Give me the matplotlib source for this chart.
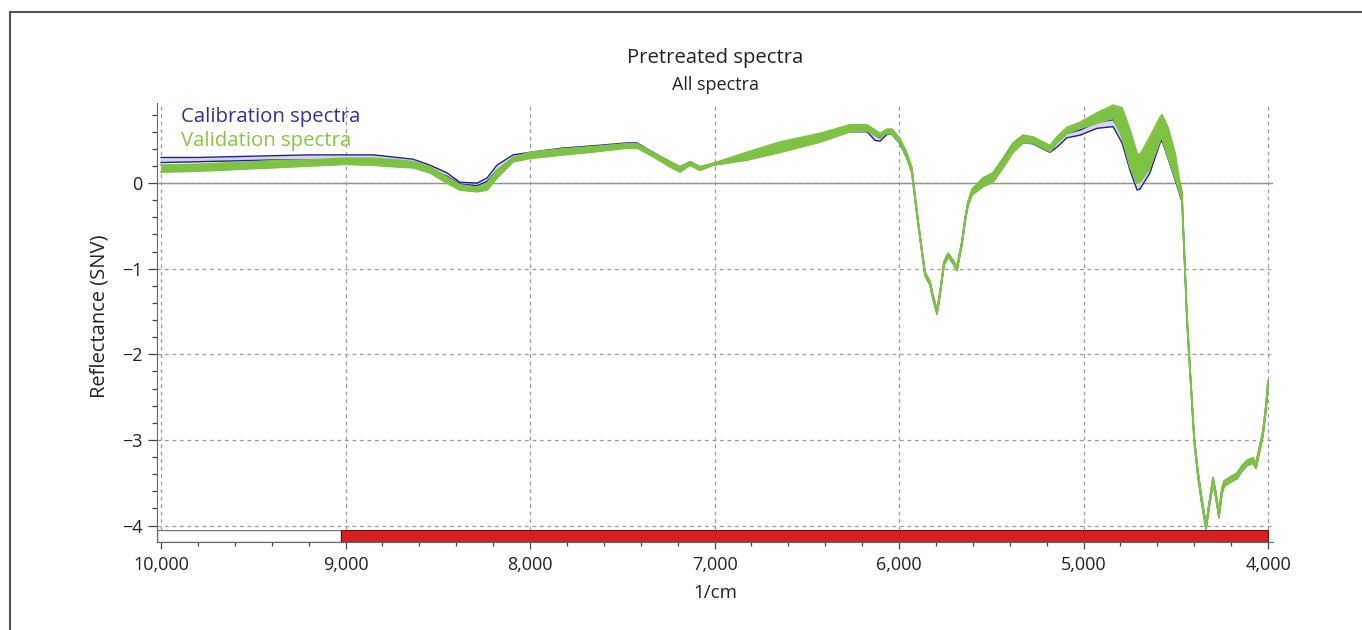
import matplotlib
matplotlib.use("Agg")
import matplotlib.pyplot as plt
from matplotlib.patches import Rectangle
from matplotlib.ticker import MultipleLocator, FuncFormatter
from matplotlib.lines import Line2D

plt.rcParams['font.family'] = ['Open Sans', 'DejaVu Sans']

# ---- data ----
wavenumber = [10000, 9800, 9600, 9400, 9200, 9000, 8850, 8720, 8634, 8542,
              8450, 8380, 8287, 8233, 8179, 8092, 8000, 7821, 7637, 7474,
              7420, 7333, 7241, 7187, 7133, 7079, 7008, 6824, 6645, 6428,
              6266, 6173, 6130, 6103, 6065, 6038, 5995, 5957, 5930, 5924,
              5903, 5886, 5859, 5832, 5816, 5794, 5778, 5756, 5734, 5707,
              5686, 5659, 5642, 5626, 5604, 5545, 5491, 5436, 5382, 5328,
              5274, 5220, 5182, 5144, 5090, 5019, 4927, 4840, 4791, 4748,
              4710, 4694, 4640, 4585, 4575, 4542, 4504, 4483, 4466, 4460,
              4450, 4440, 4428, 4412, 4400, 4380, 4360, 4336, 4318, 4298,
              4282, 4266, 4250, 4238, 4200, 4168, 4140, 4114, 4081, 4065,
              4045, 4027, 4010, 4000]

calibration_high = [0.30, 0.30, 0.31, 0.32, 0.33, 0.33, 0.33, 0.30, 0.28, 0.21,
                    0.12, 0.01, 0.00, 0.06, 0.21, 0.33, 0.36, 0.41, 0.44, 0.47,
                    0.47, 0.36, 0.25, 0.19, 0.25, 0.19, 0.23, 0.32, 0.44, 0.56,
                    0.65, 0.64, 0.56, 0.53, 0.60, 0.61, 0.50, 0.33, 0.16, 0.05,
                    -0.33, -0.61, -1.04, -1.15, -1.31, -1.48, -1.27, -0.92, -0.82, -0.90,
                    -0.98, -0.68, -0.41, -0.22, -0.08, 0.04, 0.10, 0.27, 0.45, 0.54,
                    0.52, 0.46, 0.41, 0.48, 0.58, 0.62, 0.71, 0.74, 0.58, 0.30,
                    0.00, 0.02, 0.19, 0.58, 0.60, 0.41, 0.15, 0.00, -0.15, -0.48,
                    -0.98, -1.52, -1.97, -2.54, -2.97, -3.36, -3.67, -3.99, -3.72, -3.44,
                    -3.62, -3.85, -3.57, -3.48, -3.43, -3.39, -3.30, -3.24, -3.21, -3.27,
                    -3.07, -2.89, -2.57, -2.31]

calibration_low = [0.24, 0.25, 0.26, 0.27, 0.27, 0.27, 0.28, 0.25, 0.23, 0.17,
                   0.08, -0.01, -0.03, 0.02, 0.15, 0.28, 0.31, 0.36, 0.40, 0.43,
                   0.43, 0.32, 0.21, 0.15, 0.22, 0.16, 0.21, 0.28, 0.37, 0.50,
                   0.60, 0.60, 0.50, 0.49, 0.57, 0.57, 0.46, 0.29, 0.12, 0.01,
                   -0.37, -0.65, -1.08, -1.19, -1.35, -1.53, -1.31, -0.96, -0.86, -0.94,
                   -1.02, -0.72, -0.45, -0.26, -0.13, -0.03, 0.02, 0.19, 0.37, 0.47,
                   0.46, 0.40, 0.36, 0.42, 0.53, 0.56, 0.64, 0.66, 0.47, 0.15,
                   -0.08, -0.07, 0.12, 0.47, 0.50, 0.29, 0.04, -0.10, -0.22, -0.53,
                   -1.03, -1.57, -2.02, -2.59, -3.02, -3.42, -3.73, -4.04, -3.78, -3.50,
                   -3.68, -3.91, -3.63, -3.54, -3.49, -3.45, -3.36, -3.30, -3.27, -3.33,
                   -3.13, -2.95, -2.63, -2.37]

validation_high = [0.21, 0.22, 0.24, 0.26, 0.27, 0.29, 0.29, 0.27, 0.25, 0.19,
                   0.07, -0.02, -0.05, 0.00, 0.15, 0.30, 0.36, 0.40, 0.43, 0.46,
                   0.46, 0.36, 0.25, 0.19, 0.25, 0.19, 0.23, 0.36, 0.48, 0.58,
                   0.68, 0.68, 0.62, 0.58, 0.63, 0.63, 0.52, 0.35, 0.18, 0.05,
                   -0.33, -0.61, -1.04, -1.15, -1.31, -1.48, -1.27, -0.92, -0.82, -0.90,
                   -0.98, -0.68, -0.41, -0.22, -0.07, 0.06, 0.12, 0.29, 0.47, 0.56,
                   0.54, 0.48, 0.44, 0.54, 0.65, 0.71, 0.82, 0.91, 0.88, 0.62,
                   0.35, 0.33, 0.54, 0.77, 0.80, 0.65, 0.35, 0.07, -0.10, -0.48,
                   -0.98, -1.52, -1.97, -2.54, -2.97, -3.36, -3.67, -3.99, -3.72, -3.44,
                   -3.62, -3.85, -3.57, -3.48, -3.43, -3.39, -3.30, -3.24, -3.21, -3.27,
                   -3.07, -2.89, -2.57, -2.31]

validation_low = [0.13, 0.14, 0.16, 0.18, 0.20, 0.22, 0.21, 0.19, 0.18, 0.12,
                  0.00, -0.08, -0.10, -0.08, 0.06, 0.25, 0.29, 0.33, 0.37, 0.41,
                  0.41, 0.31, 0.19, 0.13, 0.21, 0.15, 0.21, 0.27, 0.36, 0.48,
                  0.60, 0.61, 0.56, 0.54, 0.58, 0.57, 0.47, 0.29, 0.12, 0.01,
                  -0.37, -0.65, -1.08, -1.19, -1.35, -1.53, -1.31, -0.96, -0.86, -0.94,
                  -1.02, -0.72, -0.45, -0.26, -0.14, -0.04, 0.01, 0.18, 0.36, 0.47,
                  0.47, 0.41, 0.37, 0.47, 0.58, 0.64, 0.70, 0.76, 0.54, 0.19,
                  0.00, 0.01, 0.18, 0.50, 0.53, 0.30, 0.06, -0.08, -0.20, -0.53,
                  -1.03, -1.57, -2.02, -2.59, -3.02, -3.42, -3.73, -4.04, -3.78, -3.50,
                  -3.68, -3.91, -3.63, -3.54, -3.49, -3.45, -3.36, -3.30, -3.27, -3.33,
                  -3.13, -2.95, -2.63, -2.37]

selected_range = (9025, 4000)
title = "Pretreated spectra"
subtitle = "All spectra"
legend_labels = ["Calibration spectra", "Validation spectra"]

# ---- figure ----
W, H = 1362, 630
fig = plt.figure(figsize=(W / 100, H / 100), dpi=100)

def fx(px):
    return px / W

def fy(px):
    return 1 - px / H

# outer frame (top and left visible)
fig.add_artist(Line2D([fx(10), 1.0], [fy(12), fy(12)], color='#555555', lw=1.5,
                      transform=fig.transFigure))
fig.add_artist(Line2D([fx(10), fx(10)], [fy(12), 0.0], color='#555555', lw=1.5,
                      transform=fig.transFigure))

ax_left, ax_right = 157, 1273
main_top, main_bot = 103, 530
strip_top, strip_bot = 530, 542

ax = fig.add_axes([fx(ax_left), fy(main_bot), fx(ax_right - ax_left),
                   (main_bot - main_top) / H])
strip = fig.add_axes([fx(ax_left), fy(strip_bot), fx(ax_right - ax_left),
                      (strip_bot - strip_top) / H], sharex=ax)

cal_color = '#22208f'
val_color = '#7dc242'

ax.fill_between(wavenumber, calibration_low, calibration_high, color='#d6d3f0', lw=0, zorder=2)
ax.plot(wavenumber, calibration_high, color=cal_color, lw=1.0, zorder=3)
ax.plot(wavenumber, calibration_low, color=cal_color, lw=1.0, zorder=3)
ax.fill_between(wavenumber, validation_low, validation_high, color=val_color, lw=0, zorder=4)
ax.plot(wavenumber, validation_high, color=val_color, lw=1.3, zorder=4)
ax.plot(wavenumber, validation_low, color=val_color, lw=1.3, zorder=4)

ax.axhline(0, color='#8a8a8a', lw=1.0, zorder=1)

ax.set_xlim(10021.7, 3972.9)
ax.set_ylim(-4.052, 0.936)

ax.xaxis.set_major_locator(MultipleLocator(1000))
ax.xaxis.set_minor_locator(MultipleLocator(200))
ax.yaxis.set_major_locator(MultipleLocator(1))
ax.yaxis.set_minor_locator(MultipleLocator(0.2))

ax.grid(True, which='major', color='#9a9a9a', lw=0.9, ls=(0, (3, 3)), zorder=0)
for s in ['top', 'right', 'bottom']:
    ax.spines[s].set_visible(False)
ax.spines['left'].set_color('#666666')
ax.tick_params(axis='x', which='both', bottom=False, labelbottom=False)
ax.tick_params(axis='y', which='major', length=6.5, width=0.9, color='#444444',
               labelsize=13, labelcolor='#222222', pad=4)
ax.tick_params(axis='y', which='minor', length=3.6, width=0.9, color='#444444')
ax.yaxis.set_major_formatter(FuncFormatter(lambda v, p: f"{int(round(v))}".replace('-', '\u2212')))
ax.set_ylabel("Reflectance (SNV)", fontsize=14.5, color='#222222', labelpad=9)

ax.text(0.0215, 0.967, legend_labels[0], transform=ax.transAxes, color='#3a2ca0',
        fontsize=14.7, va='center', ha='left', zorder=10)
ax.text(0.0215, 0.911, legend_labels[1], transform=ax.transAxes, color='#8cc63f',
        fontsize=14.7, va='center', ha='left', zorder=10)

# range strip
strip.set_ylim(0, 1)
strip.set_yticks([])
for s in ['top', 'right']:
    strip.spines[s].set_visible(False)
strip.spines['bottom'].set_color('#666666')
strip.spines['left'].set_color('#666666')
strip.add_patch(Rectangle((10021.7, 0), selected_range[0] - 10021.7, 1,
                          facecolor='white', edgecolor='#777777', lw=1.0, zorder=2))
strip.add_patch(Rectangle((selected_range[0], 0), selected_range[1] - selected_range[0], 1,
                          facecolor='#d7201f', edgecolor='#6a1010', lw=0.8, zorder=3))
strip.xaxis.set_major_formatter(FuncFormatter(lambda v, p: f"{int(round(v)):,}"))
strip.tick_params(axis='x', which='major', length=5, width=0.9, color='#444444',
                  labelsize=13, labelcolor='#222222', pad=5)
strip.tick_params(axis='x', which='minor', length=3.2, width=0.9, color='#444444')
strip.set_xlabel("1/cm", fontsize=13.5, color='#222222', labelpad=7)

fig.text(fx(715), fy(58), title, ha='center', va='center', fontsize=14.6, color='#222222')
fig.text(fx(715), fy(85), subtitle, ha='center', va='center', fontsize=13, color='#222222')

fig.savefig("out.png", dpi=100)
